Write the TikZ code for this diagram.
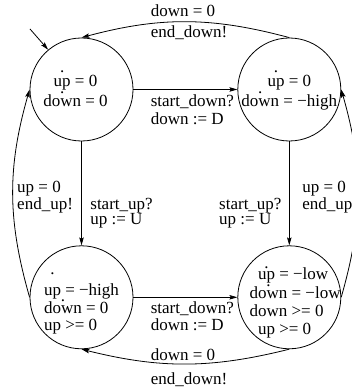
\documentclass[tikz,border=0pt]{standalone}
\usepackage{fontspec}
\setmainfont{Liberation Serif}
\usetikzlibrary{positioning}
\usetikzlibrary{arrows.meta}
\tikzset{
    every picture/.style={>={Stealth[length=8pt,width=4.5pt,inset=1.5pt]},x=1pt,y=1pt},
}
% dotted (time derivative) variable name
\newcommand{\der}[2][13pt]{\leavevmode\setbox0\hbox{#2}\rlap{\hbox to\wd0{\hss\raisebox{#1}{.}\hss}}\box0\relax}
\lineskiplimit=-100pt

\begin{document}
\begin{tikzpicture}[line width=0.8pt,
  loc/.style={circle,draw,minimum size=103pt,inner sep=-15pt,text depth=0pt,font=\fontsize{17pt}{20pt}\selectfont},
  lab/.style={anchor=base west,inner sep=0pt,align=left,font=\fontsize{17pt}{17.5pt}\selectfont}]
\useasboundingbox (0,0) rectangle (351,387);
\node[loc,align=center,text height=34pt] (q0) at (81.5,297.5) {\der[14pt]{up} = 0\hspace*{12pt}\\\der[12.5pt]{down} = 0\hspace*{12pt}};
\node[loc,align=center,text height=34pt,right=104pt of q0] (q1) {\der[14pt]{up} = 0\\\der{down} = −high};
\node[loc,align=left,text height=67pt,below=104pt of q0] (q2) {\der[21pt]{up} = −high\\[-2.5pt]\der[12pt]{down} = 0\\[-2.5pt]up >= 0};
\node[loc,align=left,text height=75pt,right=104pt of q2] (q3) {\hspace*{20pt}\der[11pt]{up} = −low\\[-1.7pt]\hspace*{11.6pt}\der[11.5pt]{down} = −low\\[-1.7pt]\hspace*{11.6pt}down >= 0\\[-1.7pt]\hspace*{20pt}up >= 0};
\coordinate (init) at (30,358);

\draw[->] (init) -- (q0.130);
\path (q0) edge[->] node[lab,xshift=-35pt,yshift=-35.5pt] (g01) {start\_down?\\[0.5pt]down := D} (q1)
(q2) edge[->] node[lab,xshift=-35pt,yshift=-33.5pt] (g23) {start\_down?\\[-0.2pt]down := D} (q3)
(q0) edge[->] node[lab,xshift=8.5pt,yshift=-31.3pt] (g02) {start\_up?\\[-2.5pt]up := U} (q2)
(q1) edge[->] node[lab,xshift=-70.5pt,yshift=-31.3pt] (g13) {start\_up?\\[-2.5pt]up := U} (q3)
(q1.north) edge[->,bend right=15] node[lab,xshift=-35pt,yshift=5pt] (g10a) {down = 0} node[lab,xshift=-35pt,yshift=-16pt] (g10b) {end\_down!} (q0.north)
(q3.south) edge[->,bend left=14] node[lab,xshift=-35pt,yshift=3pt] (g32a) {down = 0} node[lab,xshift=-35pt,yshift=-20.5pt] (g32b) {end\_down!} (q2.south)
(q2.west) edge[->,bend left=16] node[lab,xshift=4pt,yshift=-16pt] (g20) {up = 0\\[-0.5pt]end\_up!} (q0.west)
(q3.east) edge[->,bend right=16] node[lab,xshift=-56pt,yshift=-16pt] (g31) {up = 0\\[-0.5pt]end\_up!} (q1.east)
;
\end{tikzpicture}
\end{document}
